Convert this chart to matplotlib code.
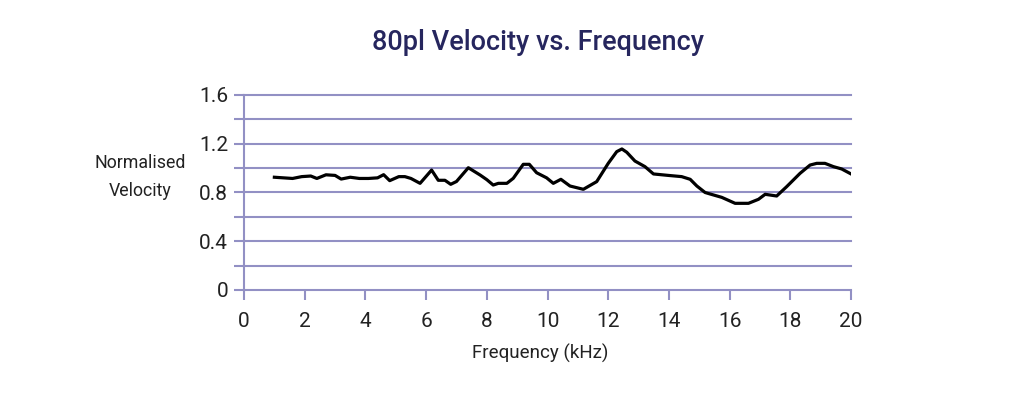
import matplotlib
matplotlib.use("Agg")
import matplotlib.pyplot as plt

freq_khz = [1.0, 1.3, 1.6, 1.9, 2.2, 2.4, 2.7, 3.0, 3.2, 3.5, 3.8, 4.1, 4.4, 4.6, 4.8,
            5.1, 5.3, 5.5, 5.8, 6.18, 6.4, 6.62, 6.81, 7.0, 7.39, 7.78, 8.0, 8.21,
            8.38, 8.66, 8.87, 9.2, 9.4, 9.64, 9.97, 10.19, 10.44, 10.74, 11.18,
            11.62, 12.0, 12.28, 12.45, 12.61, 12.88, 13.21, 13.49, 13.98, 14.42,
            14.7, 14.92, 15.19, 15.35, 15.74, 16.18, 16.62, 16.95, 17.17, 17.55,
            17.88, 18.32, 18.65, 18.87, 19.14, 19.42, 19.69, 20.0]
velocity = [0.925, 0.92, 0.915, 0.93, 0.935, 0.915, 0.945, 0.94, 0.91, 0.925, 0.915,
            0.915, 0.92, 0.946, 0.897, 0.93, 0.93, 0.915, 0.875, 0.984, 0.90, 0.90,
            0.867, 0.89, 1.003, 0.943, 0.905, 0.861, 0.875, 0.875, 0.916, 1.031,
            1.031, 0.962, 0.92, 0.875, 0.908, 0.853, 0.826, 0.889, 1.039, 1.135,
            1.157, 1.13, 1.058, 1.012, 0.952, 0.94, 0.93, 0.908, 0.853, 0.80, 0.788,
            0.76, 0.711, 0.711, 0.744, 0.785, 0.771, 0.848, 0.957, 1.025, 1.039,
            1.039, 1.012, 0.993, 0.952]

x_ticks = [0, 2, 4, 6, 8, 10, 12, 14, 16, 18, 20]
y_ticks = [0, 0.4, 0.8, 1.2, 1.6]
y_tick_labels = ["0", "0.4", "0.8", "1.2", "1.6"]
y_grid = [0, 0.2, 0.4, 0.6, 0.8, 1.0, 1.2, 1.4, 1.6]

title = "80pl Velocity vs. Frequency"
x_label = "Frequency (kHz)"
y_label = "Normalised\nVelocity"

font = "Roboto"
grid_col = "#9290c4"
text_col = "#222222"

fig = plt.figure(figsize=(10.24, 4.09), dpi=100)
ax = fig.add_axes([0.2383, 0.291, 0.5928, 0.4768])

ax.plot(freq_khz, velocity, color="black", lw=2.3, solid_joinstyle="round", zorder=3)

ax.set_xlim(0, 20)
ax.set_ylim(0, 1.6)
ax.set_xticks(x_ticks)
ax.set_yticks(y_grid)
ax.set_yticklabels([y_tick_labels[y_ticks.index(v)] if v in y_ticks else "" for v in y_grid])
for v in y_grid[1:]:
    ax.axhline(v, color=grid_col, lw=1.5, zorder=0, clip_on=False)

for s in ["top", "right"]:
    ax.spines[s].set_visible(False)
for s in ["left", "bottom"]:
    ax.spines[s].set_color(grid_col)
    ax.spines[s].set_linewidth(1.5)

ax.tick_params(axis="both", direction="out", color=grid_col, width=1.5, length=7.5,
               labelsize=15, labelcolor=text_col)
ax.tick_params(axis="x", pad=8)
ax.tick_params(axis="y", pad=4)
for lab in ax.get_xticklabels() + ax.get_yticklabels():
    lab.set_fontfamily(font)

fig.text(538 / 1024, 1 - 43 / 409, title, ha="center", va="center",
         fontsize=19.5, color="#26265e", fontfamily=font, fontweight="medium")
fig.text(540 / 1024, 1 - 353 / 409, x_label, ha="center", va="center",
         fontsize=13.5, color=text_col, fontfamily=font)
fig.text(140 / 1024, 1 - 177 / 409, y_label, ha="center", va="center",
         fontsize=12.8, color=text_col, fontfamily=font, linespacing=1.75)

fig.savefig("out.png", dpi=100, facecolor="white")
